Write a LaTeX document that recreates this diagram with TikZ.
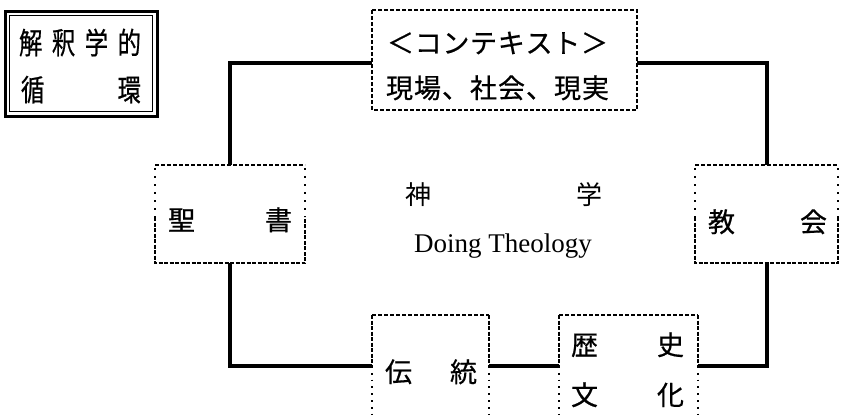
\documentclass[tikz,border=0pt]{standalone}
\usepackage{fontspec}
\setmainfont{Liberation Serif}
\newfontfamily\jp{Noto Sans CJK JP}[FakeBold=0.6]
\newfontfamily\jplight{Noto Sans CJK JP}
\newfontfamily\jpn{Noto Sans CJK JP}[FakeStretch=0.78, FakeBold=0.6]
\tikzset{
  boxnode/.style={draw=none, rectangle, inner sep=0, outer sep=0},
  link/.style={line width=4pt},
  thindash/.style={line width=1.3pt, dash pattern=on 4pt off 2pt},
  thickdash/.style={line width=2.5pt, dash pattern=on 4pt off 1.5pt},
  sparsedash/.style={line width=1.5pt, dash pattern=on 1.5pt off 6.5pt},
  dotline/.style={line width=1.8pt, dash pattern=on 1.8pt off 5pt},
  ctxdash/.style={line width=1.8pt, dash pattern=on 4pt off 2pt},
  jptext/.style={anchor=base, font=\jp\fontsize{27}{27}\selectfont},
  jpsmall/.style={anchor=base, font=\jpn\fontsize{30}{30}\selectfont},
}
\begin{document}
\begin{tikzpicture}[x=1pt,y=-1pt]
\useasboundingbox (0,0) rectangle (841,416);

% hermeneutic circle title box (double border)
\node[boxnode, minimum width=152, minimum height=105] (herm) at (81,63.5) {};
\draw[line width=3pt] (herm.north west) rectangle (herm.south east);
\draw[line width=1.2pt] ([shift={(4.5pt,-4.5pt)}]herm.north west) rectangle ([shift={(-4.5pt,4.5pt)}]herm.south east);
\node[jpsmall] (hermA) at (80,54) {\makebox[122pt][s]{解\hfill 釈\hfill 学\hfill 的}};
\node[jpsmall] (hermB) at (81,101) {\makebox[120pt][s]{循\hfill 環}};

% boxes
\node[boxnode, minimum width=265, minimum height=100] (context) at (504.5,60) {};
\node[boxnode, minimum width=150, minimum height=98] (seisho) at (230,214) {};
\node[boxnode, minimum width=143, minimum height=98] (kyokai) at (766.5,214) {};
\node[boxnode, minimum width=117, minimum height=102] (dento) at (430.5,366) {};
\node[boxnode, minimum width=139, minimum height=102] (rekishi) at (628.5,366) {};

% context border
\draw[ctxdash] (context.north west) rectangle (context.south east);

% seisho border
\draw[thindash] (seisho.north west) -- (seisho.north east);
\draw[sparsedash] ([yshift=-3pt]seisho.north west) -- ([yshift=-3pt]seisho.west);
\draw[sparsedash] ([yshift=-3pt]seisho.north east) -- ([yshift=-3pt]seisho.east);
\draw[thickdash] ([yshift=-3pt]seisho.west) -- (seisho.south west) -- (seisho.south east) -- ([yshift=-3pt]seisho.east);

% kyokai border
\draw[thindash] (kyokai.north west) -- (kyokai.north east);
\draw[sparsedash] ([yshift=-3pt]kyokai.north west) -- ([yshift=-3pt]kyokai.west);
\draw[sparsedash] ([yshift=-3pt]kyokai.north east) -- ([yshift=-3pt]kyokai.east);
\draw[thickdash] ([yshift=-3pt]kyokai.west) -- (kyokai.south west) -- (kyokai.south east) -- ([yshift=-3pt]kyokai.east);

% dento border
\draw[thindash] (dento.north west) -- (dento.north east);
\draw[thickdash] (dento.north west) -- (dento.west);
\draw[thickdash] (dento.north east) -- (dento.east);
\draw[dotline] (dento.west) -- (dento.south west);
\draw[dotline] (dento.east) -- (dento.south east);

% rekishi border
\draw[thindash] (rekishi.north west) -- (rekishi.north east);
\draw[thickdash] (rekishi.north west) -- (rekishi.west);
\draw[thickdash] (rekishi.north east) -- (rekishi.east);
\draw[dotline] (rekishi.west) -- (rekishi.south west);
\draw[dotline] (rekishi.east) -- (rekishi.south east);

% connectors
\draw[link] (seisho.north) |- ([yshift=-3pt]context.west);
\draw[link] ([yshift=-3pt]context.east) -| (kyokai.north);
\draw[link] (seisho.south) |- (dento.west);
\draw[link] (dento.east) -- (rekishi.west);
\draw[link] (rekishi.east) -| (kyokai.south);

% texts
\node[jptext] (ctxA) at (497.5,53) {\makebox[221pt][s]{＜\hfill コ\hfill ン\hfill テ\hfill キ\hfill ス\hfill ト\hfill ＞}};
\node[jptext] (ctxB) at (497.5,98) {\makebox[223pt][s]{現\hfill 場\hfill 、\hfill 社\hfill 会\hfill 、\hfill 現\hfill 実}};
\node[jptext] (seishoT) at (230,230) {\makebox[124pt][s]{聖\hfill 書}};
\node[jptext] (kyokaiT) at (767.5,232) {\makebox[119pt][s]{教\hfill 会}};
\node[jptext] (dentoT) at (431,382) {\makebox[92pt][s]{伝\hfill 統}};
\node[jptext] (rekishiT) at (627.5,355) {\makebox[113pt][s]{歴\hfill 史}};
\node[jptext] (bunkaT) at (627.5,405) {\makebox[113pt][s]{文\hfill 化}};
\node[anchor=base, font=\jplight\fontsize{26}{26}\selectfont] (shingaku) at (503.5,204) {\makebox[197pt][s]{神\hfill 学}};
\node[anchor=base, font=\fontsize{27}{27}\selectfont] (doing) at (503,252) {Doing Theology};
\end{tikzpicture}
\end{document}
